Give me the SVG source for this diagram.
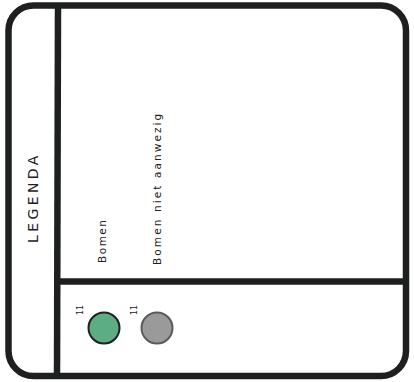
<svg xmlns="http://www.w3.org/2000/svg" width="414" height="382" viewBox="0 0 414 382">
<style>
.ln{fill:none;stroke:#1e201f;stroke-width:6.5;stroke-linecap:butt}
.t{font-family:"DejaVu Sans","Liberation Sans",sans-serif;fill:#1e201f}
</style>
<rect width="414" height="382" fill="#fff"/>
<g id="frame">
<rect class="ln" x="8.5" y="5.5" width="397.5" height="370.5" rx="25" ry="25"/>
<line class="ln" x1="58" y1="5" x2="57" y2="376"/>
<line class="ln" x1="57" y1="281.5" x2="406" y2="281.5"/>
</g>
<g id="title">
<text class="t" transform="translate(38,243) rotate(-90)" font-size="14" letter-spacing="3.4">LEGENDA</text>
</g>
<g id="bomen">
<text class="t" transform="translate(106,263) rotate(-90)" font-size="10.5" letter-spacing="1.5">Bomen</text>
<circle cx="104" cy="328" r="15.5" fill="#5cad83" stroke="#1e201f" stroke-width="2"/>
<text class="t" transform="translate(83,315) rotate(-90)" font-size="8">11</text>
</g>
<g id="bomen-niet">
<text class="t" transform="translate(161,265) rotate(-90)" font-size="10.5" letter-spacing="2.1">Bomen niet aanwezig</text>
<circle cx="157" cy="328" r="15.5" fill="#9a9a9a" stroke="#5a5a5a" stroke-width="2"/>
<text class="t" transform="translate(137,315) rotate(-90)" font-size="8">11</text>
</g>
<g id="connectors"/>
</svg>
